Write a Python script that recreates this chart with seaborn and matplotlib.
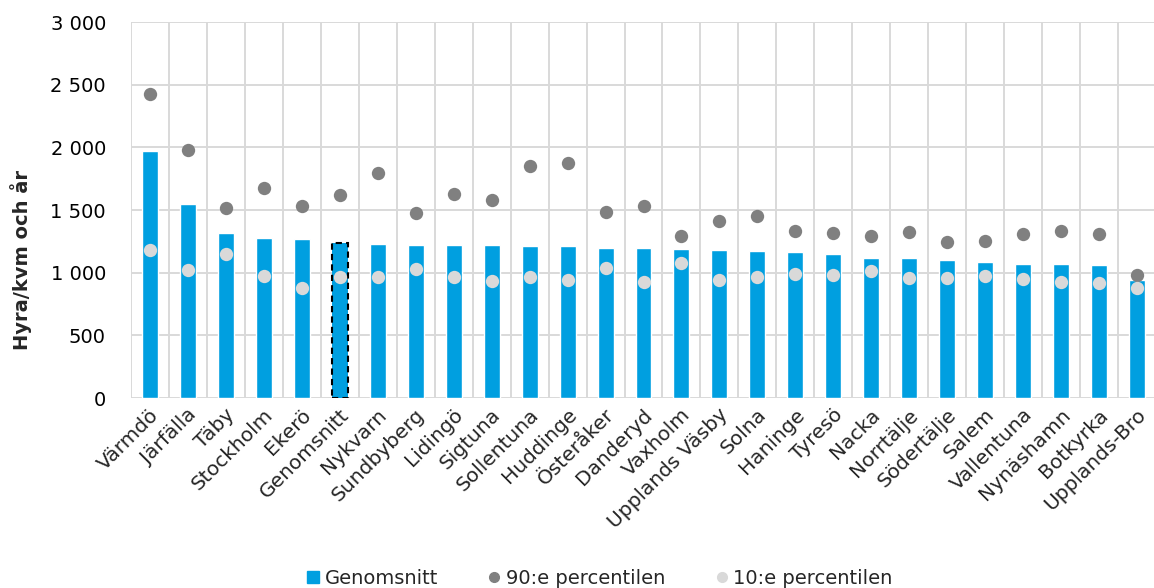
import numpy as np
import pandas as pd
import matplotlib
matplotlib.use("Agg")
import matplotlib.pyplot as plt
from matplotlib.lines import Line2D
from matplotlib.ticker import FuncFormatter
from matplotlib.transforms import ScaledTranslation
import seaborn as sns

# Rent per square metre and year, by municipality
kommuner = ["Värmdö", "Järfälla", "Täby", "Stockholm", "Ekerö", "Genomsnitt",
            "Nykvarn", "Sundbyberg", "Lidingö", "Sigtuna", "Sollentuna",
            "Huddinge", "Österåker", "Danderyd", "Vaxholm", "Upplands Väsby",
            "Solna", "Haninge", "Tyresö", "Nacka", "Norrtälje", "Södertälje",
            "Salem", "Vallentuna", "Nynäshamn", "Botkyrka", "Upplands-Bro"]
genomsnitt = [1967, 1545, 1319, 1279, 1271, 1239, 1226, 1220, 1220, 1220, 1212,
              1212, 1196, 1196, 1191, 1180, 1175, 1164, 1148, 1119, 1114, 1103,
              1087, 1071, 1071, 1061, 943]
p90 = [2425, 1980, 1518, 1673, 1534, 1617, 1798, 1478, 1628, 1582, 1854,
       1878, 1481, 1529, 1290, 1415, 1455, 1332, 1316, 1295, 1327, 1247,
       1255, 1306, 1332, 1306, 983]
p10 = [1183, 1018, 1151, 973, 874, 967, 967, 1028, 962, 933, 965,
       938, 1036, 922, 1076, 943, 965, 989, 981, 1015, 954, 959,
       975, 946, 922, 917, 877]
yticks = [0, 500, 1000, 1500, 2000, 2500, 3000]

df = pd.DataFrame({"kommun": kommuner, "medel": genomsnitt,
                   "p90": p90, "p10": p10})

BLUE = "#009FE0"
DARK = "#808080"
LIGHT = "#D9D9D9"
GRID = "#D9D9D9"

sns.set_style("white")
plt.rcParams["font.family"] = ["DejaVu Sans"]

fig = plt.figure(figsize=(11.54, 5.88), dpi=100)
ax = fig.add_axes([131 / 1154, 1 - 398 / 588, 1025 / 1154, 376 / 588])

sns.barplot(data=df, x="kommun", y="medel", order=kommuner, color=BLUE,
            saturation=1, width=0.42, ax=ax, zorder=2)
# highlight the average bar with a dashed outline
avg_idx = kommuner.index("Genomsnitt")
bar = ax.patches[avg_idx]
bar.set_edgecolor("black")
bar.set_linestyle((0, (3, 2)))
bar.set_linewidth(1.5)

sns.stripplot(data=df, x="kommun", y="p90", order=kommuner, jitter=False,
              color=DARK, size=9.6, linewidth=0, ax=ax, zorder=3)
sns.stripplot(data=df, x="kommun", y="p10", order=kommuner, jitter=False,
              color=LIGHT, size=9.6, linewidth=0, ax=ax, zorder=4)

ax.set_xlim(-0.5, len(kommuner) - 0.5)
ax.set_ylim(0, 3000)
ax.set_yticks(yticks)
ax.yaxis.set_major_formatter(FuncFormatter(lambda v, _: f"{int(v):,}".replace(",", " ")))

# category separators and value gridlines
ax.set_xticks(np.arange(-0.5, len(kommuner), 1), minor=True)
ax.grid(which="minor", axis="x", color=GRID, linewidth=1.4)
ax.grid(which="major", axis="y", color=GRID, linewidth=1.4)
ax.grid(which="major", axis="x", visible=False)
ax.set_axisbelow(True)
for s in ax.spines.values():
    s.set_visible(False)

ax.tick_params(axis="both", which="both", length=0)
ax.tick_params(axis="y", labelsize=14, pad=18, labelcolor="black")
ax.tick_params(axis="x", labelsize=14.5, pad=10)
shift = ScaledTranslation(6 / 100, 0, fig.dpi_scale_trans)
for lbl in ax.get_xticklabels():
    lbl.set_rotation(45)
    lbl.set_ha("right")
    lbl.set_rotation_mode("anchor")
    lbl.set_va("center")
    lbl.set_transform(lbl.get_transform() + shift)

ax.set_xlabel("")
ax.set_ylabel("")
fig.text(21 / 1154, 1 - 260 / 588, "Hyra/kvm och år", rotation=90,
         ha="center", va="center", fontsize=14, fontweight="bold")

handles = [
    Line2D([], [], marker="s", color=BLUE, linestyle="none", markersize=9),
    Line2D([], [], marker="o", color=DARK, linestyle="none", markersize=7),
    Line2D([], [], marker="o", color=LIGHT, linestyle="none", markersize=7),
]
fig.legend(handles, ["Genomsnitt", "90:e percentilen", "10:e percentilen"],
           loc="center", bbox_to_anchor=(598 / 1154, 1 - 578 / 588), ncol=3,
           frameon=False, fontsize=14, handletextpad=0.1, columnspacing=2.4,
           handlelength=1.0, borderaxespad=0)

fig.savefig("out.png", dpi=100)
